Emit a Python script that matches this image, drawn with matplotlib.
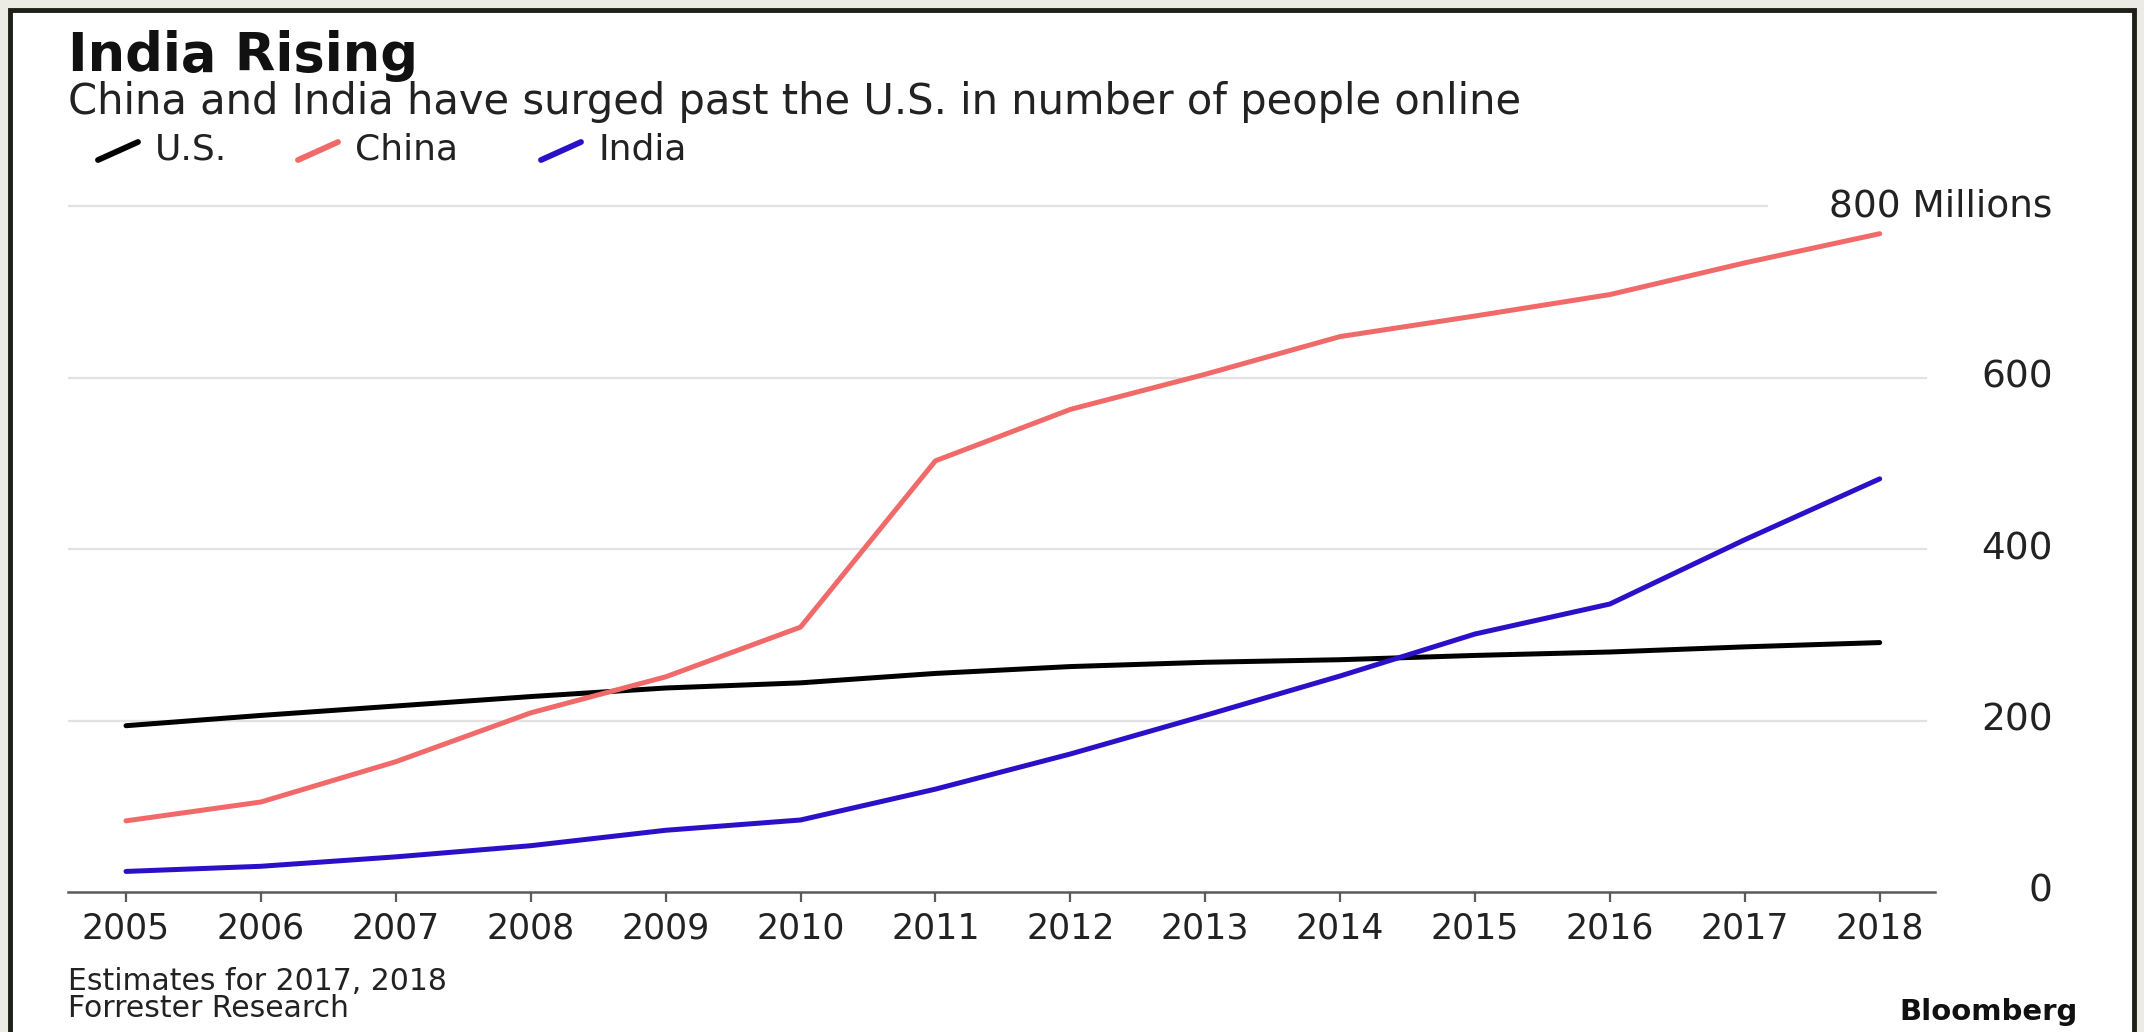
import matplotlib.pyplot as plt
import matplotlib.patches as patches
from matplotlib.lines import Line2D
from matplotlib.transforms import blended_transform_factory

# data (millions of people online)
years = [2005, 2006, 2007, 2008, 2009, 2010, 2011, 2012, 2013, 2014, 2015, 2016, 2017, 2018]
us = [194, 206, 217, 228, 238, 244, 255, 263, 268, 271, 276, 280, 286, 291]
china = [83, 105, 152, 209, 251, 309, 503, 563, 604, 648, 672, 697, 734, 768]
india = [24, 30, 41, 54, 72, 84, 120, 161, 206, 252, 301, 336, 411, 482]

series_names = ['U.S.', 'China', 'India']
series_colors = ['#000000', '#f06a6a', '#2a10c8']
y_ticks = [0, 200, 400, 600, 800]
y_labels = ['0', '200', '400', '600', '800 Millions']

title = 'India Rising'
subtitle = 'China and India have surged past the U.S. in number of people online'
notes = ['Estimates for 2017, 2018', 'Forrester Research']
brand = 'Bloomberg'

plt.rcParams['font.family'] = ['DejaVu Sans']

W, H = 2144, 1032
fig = plt.figure(figsize=(W / 100, H / 100), dpi=100, facecolor='#ecebe4')


# pixel helpers (top-left origin)
def fx(px):
    return px / W


def fy(py):
    return 1 - py / H


# white card with dark frame, behind everything
card = patches.Rectangle((fx(10), fy(1045)), fx(2124), fy(10) - fy(1045),
                         transform=fig.transFigure, facecolor='white',
                         edgecolor='#1d2017', linewidth=3.5, zorder=-5)
fig.patches.append(card)

# plot area
ax = fig.add_axes([fx(68), fy(892), fx(1935) - fx(68), fy(202) - fy(892)])
ax.set_facecolor('none')
ax.set_xlim(2004.57, 2018.41)
ax.set_ylim(0, 805)

for v in y_ticks[1:]:
    ax.axhline(v, xmin=0, xmax=0.91 if v == y_ticks[-1] else 0.995,
               color='#e2e2e2', linewidth=1.6, zorder=1)

for vals, color in zip([us, china, india], series_colors):
    ax.plot(years, vals, color=color, linewidth=3.6, solid_capstyle='round',
            solid_joinstyle='round', zorder=3)

for s in ['top', 'left', 'right']:
    ax.spines[s].set_visible(False)
ax.spines['bottom'].set_color('#5a5a5a')
ax.spines['bottom'].set_linewidth(1.8)
ax.spines['bottom'].set_zorder(2)

ax.set_xticks(years)
ax.set_xticklabels([str(y) for y in years])
ax.tick_params(axis='x', direction='out', length=7, width=1.6, color='#5a5a5a',
               labelsize=25, labelcolor='#222222', pad=7)
ax.set_yticks([])

# right-hand value labels
trans = blended_transform_factory(ax.transAxes, ax.transData)
for v, lab in zip(y_ticks, y_labels):
    ax.text(1.063, v, lab, transform=trans, ha='right', va='center',
            fontsize=27, color='#222222', clip_on=False)

# header
fig.text(fx(68), fy(71), title, fontsize=38, fontweight='bold', color='#111111',
         ha='left', va='baseline')
fig.text(fx(68), fy(114), subtitle, fontsize=30, color='#222222',
         ha='left', va='baseline')

# legend: slanted strokes + names
leg_x = [98, 298, 541]
for x0, name, color in zip(leg_x, series_names, series_colors):
    fig.add_artist(Line2D([fx(x0), fx(x0 + 40)], [fy(160), fy(142)],
                          color=color, linewidth=4.2, solid_capstyle='round'))
    fig.text(fx(x0 + 57), fy(160), name, fontsize=26, color='#222222',
             ha='left', va='baseline')

# footer
fig.text(fx(68), fy(990), notes[0], fontsize=21.5, color='#222222',
         ha='left', va='baseline')
fig.text(fx(68), fy(1017), notes[1], fontsize=21.5, color='#222222',
         ha='left', va='baseline')
fig.text(fx(2078), fy(1020), brand, fontsize=21, fontweight='bold',
         color='#111111', ha='right', va='baseline')

fig.savefig('out.png', dpi=100, facecolor=fig.get_facecolor())
